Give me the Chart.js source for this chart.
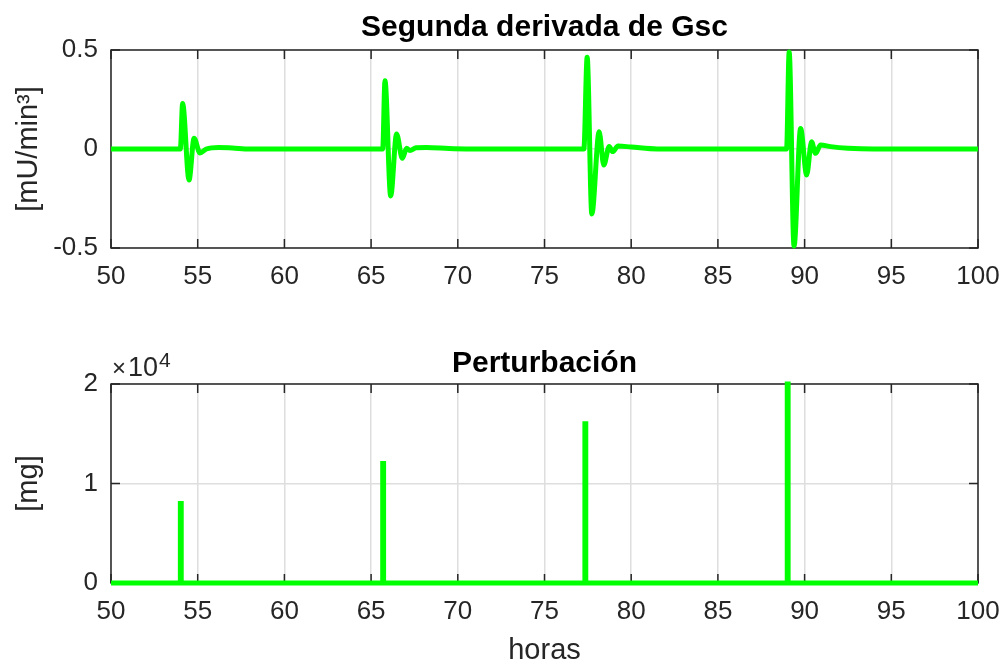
<!DOCTYPE html>
<html>
<head>
<meta charset="utf-8">
<script src="https://cdn.jsdelivr.net/npm/chart.js@4.4.1/dist/chart.umd.min.js"></script>
<style>
  html, body { margin: 0; padding: 0; background: #fff; overflow: hidden; }
  body { width: 1003px; height: 665px; position: relative; }
  canvas { position: absolute; left: 0; }
  #topChart { top: 0; }
  #bottomChart { top: 320px; }
</style>
</head>
<body>
<canvas id="topChart" width="1003" height="320"></canvas>
<canvas id="bottomChart" width="1003" height="360"></canvas>
<script>
const hourTicks = [50, 55, 60, 65, 70, 75, 80, 85, 90, 95, 100];
const gscTicks = [-0.5, 0, 0.5];
const doseTicks = [0, 10000, 20000];

// second derivative of Gsc
const gscHours = [
  50, 54.0, 54.13, 54.5, 54.79, 55.13, 55.5, 56.2, 57.0, 58.0,
  65.67, 65.8, 66.13, 66.47, 66.8, 67.05, 67.24, 67.6, 68.2, 69.5, 70.5,
  77.27, 77.46, 77.73, 78.15, 78.42, 78.73, 78.93, 79.24, 80.0, 81.5,
  88.96, 89.11, 89.39, 89.77, 90.12, 90.4, 90.63, 90.92, 91.5, 92.5, 94.0, 100
];
const gscValues = [
  0, 0, 0.23, -0.157, 0.054, -0.02, 0.0, 0.008, 0.005, 0,
  0, 0.345, -0.237, 0.076, -0.047, 0.004, -0.008, 0.006, 0.008, 0.002, 0,
  0, 0.463, -0.328, 0.087, -0.081, 0.012, -0.013, 0.015, 0.01, 0,
  0, 0.49, -0.49, 0.104, -0.131, 0.037, -0.022, 0.02, 0.012, 0.004, 0, 0
];

// meal disturbances
const pulseHours = [54.0, 65.67, 77.33, 89.0];
const pulseDoses = [8000, 12000, 16000, 20000];

const FONT = "'Liberation Sans', Arial, Helvetica, sans-serif";
const INK = '#262626';
const GREEN = '#00ff00';

const matlabBox = {
  id: 'matlabBox',
  beforeDatasetsDraw(chart) {
    const { ctx, chartArea: a, scales: { x, y } } = chart;
    ctx.save();
    ctx.strokeStyle = INK;
    ctx.lineWidth = 1.5;
    ctx.strokeRect(a.left, a.top, a.width, a.height);
    ctx.beginPath();
    x.ticks.forEach(t => {
      const px = x.getPixelForValue(t.value);
      ctx.moveTo(px, a.bottom); ctx.lineTo(px, a.bottom - 9);
      ctx.moveTo(px, a.top); ctx.lineTo(px, a.top + 9);
    });
    y.ticks.forEach(t => {
      const py = y.getPixelForValue(t.value);
      ctx.moveTo(a.left, py); ctx.lineTo(a.left + 9, py);
      ctx.moveTo(a.right, py); ctx.lineTo(a.right - 9, py);
    });
    ctx.stroke();
    ctx.restore();
  },
  afterDraw(chart, args, opts) {
    if (!opts.exponent) return;
    const { ctx, chartArea: a } = chart;
    ctx.save();
    ctx.fillStyle = INK;
    ctx.textBaseline = 'alphabetic';
    ctx.font = '24px ' + FONT;
    ctx.fillText('\u00d7', a.left + 1, a.top - 8);
    ctx.font = '27px ' + FONT;
    ctx.fillText('10', a.left + 17, a.top - 8);
    const w = ctx.measureText('10').width;
    ctx.font = '21px ' + FONT;
    ctx.fillText(opts.exponent, a.left + 18 + w, a.top - 17);
    ctx.restore();
  }
};

function axisOptions(min, max, ticks, fitSize, format) {
  return {
    type: 'linear',
    min, max,
    afterBuildTicks: s => { s.ticks = ticks.map(v => ({ value: v })); },
    afterFit: s => {
      if (s.isHorizontal()) {
        s.height = fitSize;
        s.paddingLeft = 0;
        s.paddingRight = 0;
      } else {
        s.width = fitSize;
      }
    },
    grid: { color: '#dedede', lineWidth: 1.5, drawTicks: false },
    border: { display: false },
    ticks: {
      color: INK,
      font: { family: FONT, size: 26 },
      padding: 13,
      maxRotation: 0,
      autoSkip: false,
      callback: format
    }
  };
}

function titleOptions(text, top, bottom) {
  return {
    display: true,
    fullSize: false,
    text,
    color: '#000',
    font: { family: FONT, size: 30, weight: 'bold', lineHeight: 1.2 },
    padding: { top, bottom }
  };
}

const gscPoints = gscHours.map((h, i) => ({ x: h, y: gscValues[i] }));

const pulsePoints = [{ x: 50, y: 0 }];
pulseHours.forEach((h, i) => {
  pulsePoints.push({ x: h, y: 0 }, { x: h, y: pulseDoses[i] }, { x: h + 0.05, y: pulseDoses[i] }, { x: h + 0.05, y: 0 });
});
pulsePoints.push({ x: 100, y: 0 });

const topX = axisOptions(50, 100, hourTicks, 72, v => String(v));
const topY = axisOptions(-0.5, 0.5, gscTicks, 111, v => String(v));
topY.title = {
  display: true,
  text: '[mU/min\u00b3]',
  color: INK,
  font: { family: FONT, size: 29 },
  padding: { top: 12, bottom: 0 }
};

new Chart(document.getElementById('topChart'), {
  type: 'line',
  data: {
    datasets: [{
      data: gscPoints,
      borderColor: GREEN,
      borderWidth: 5,
      pointRadius: 0,
      cubicInterpolationMode: 'monotone',
      clip: false
    }]
  },
  options: {
    responsive: false,
    animation: false,
    devicePixelRatio: 1,
    layout: { padding: { left: 0, right: 25, top: 0, bottom: 0 } },
    scales: { x: topX, y: topY },
    plugins: {
      legend: { display: false },
      tooltip: { enabled: false },
      title: titleOptions('Segunda derivada de Gsc', 10, 4)
    }
  },
  plugins: [matlabBox]
});

const botX = axisOptions(50, 100, hourTicks, 97, v => String(v));
botX.title = {
  display: true,
  text: 'horas',
  color: INK,
  font: { family: FONT, size: 29 },
  padding: { top: 0, bottom: 12 }
};
const botY = axisOptions(0, 20000, doseTicks, 111, v => String(v / 10000));
botY.title = {
  display: true,
  text: '[mg]',
  color: INK,
  font: { family: FONT, size: 29 },
  padding: { top: 12, bottom: 0 }
};

new Chart(document.getElementById('bottomChart'), {
  type: 'line',
  data: {
    datasets: [{
      data: pulsePoints,
      borderColor: GREEN,
      borderWidth: 5,
      pointRadius: 0,
      clip: false
    }]
  },
  options: {
    responsive: false,
    animation: false,
    devicePixelRatio: 1,
    layout: { padding: { left: 0, right: 25, top: 0, bottom: 0 } },
    scales: { x: botX, y: botY },
    plugins: {
      legend: { display: false },
      tooltip: { enabled: false },
      title: titleOptions('Perturbaci\u00f3n', 26, 2),
      matlabBox: { exponent: '4' }
    }
  },
  plugins: [matlabBox]
});
</script>
</body>
</html>
